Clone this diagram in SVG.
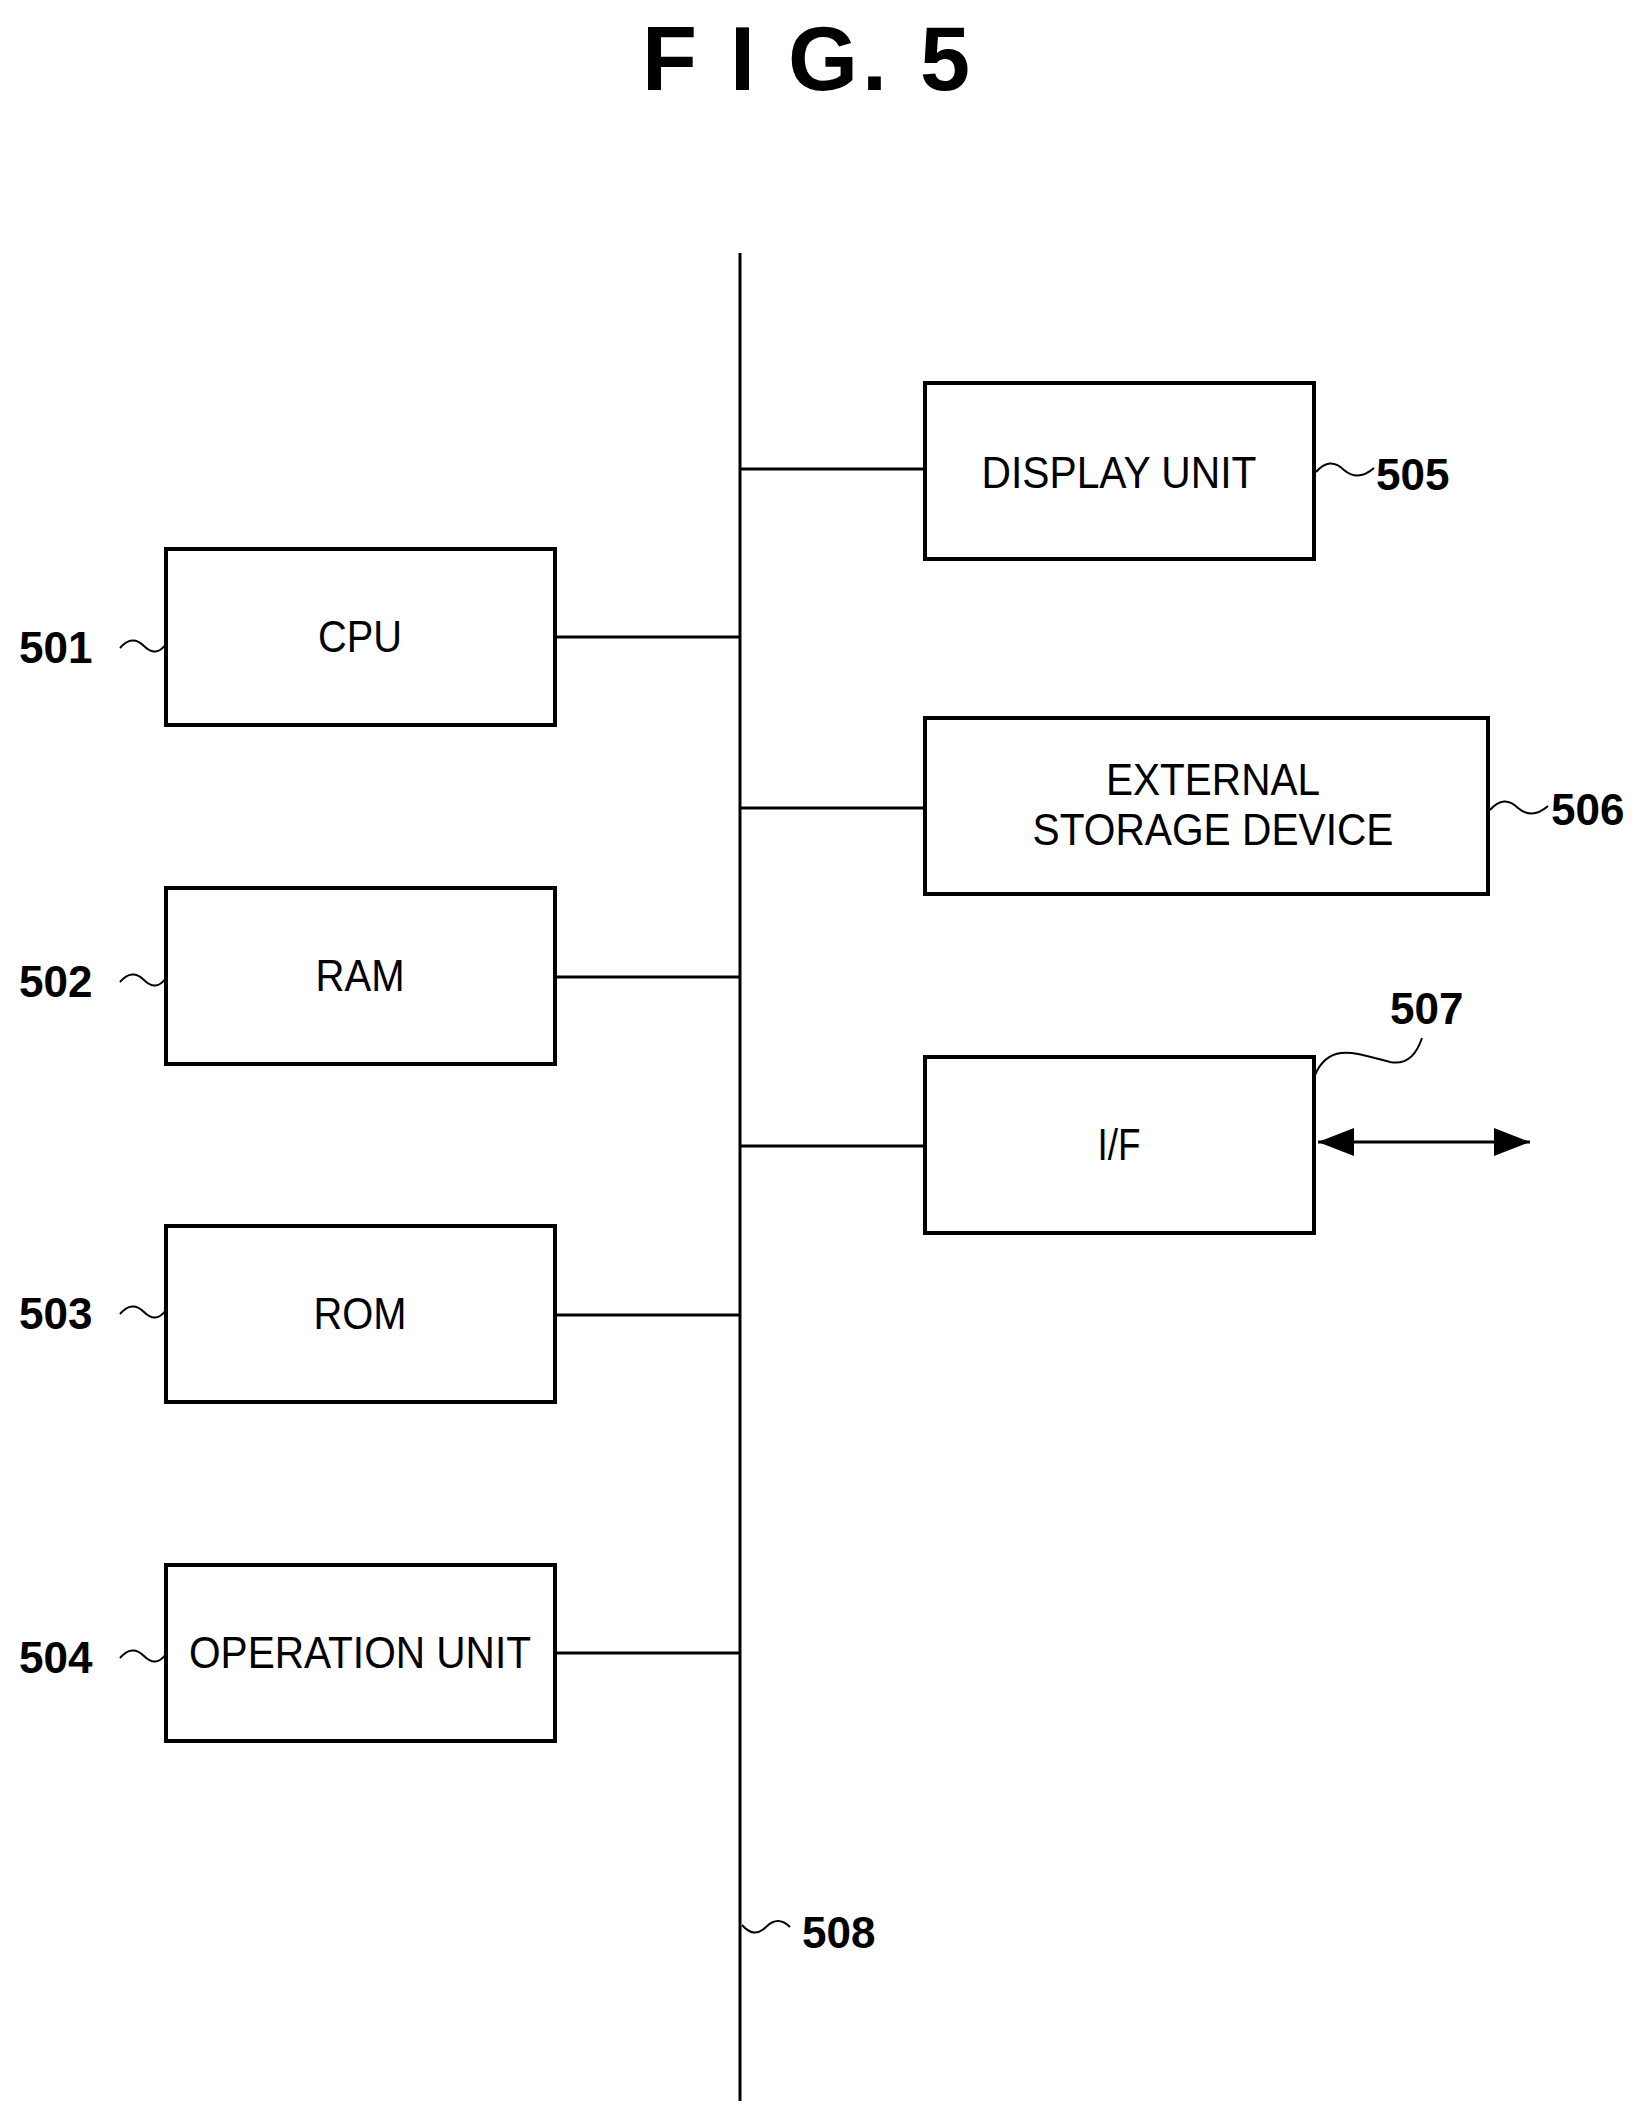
<svg xmlns="http://www.w3.org/2000/svg" width="1648" height="2115" viewBox="0 0 1648 2115">
<style>
.box{fill:#fff;stroke:#000;stroke-width:4}
.ln{stroke:#000;stroke-width:3;fill:none}
.t{font-family:"Liberation Sans",Arial,sans-serif;font-size:44px;text-anchor:middle}
.n{font-family:"Liberation Sans",Arial,sans-serif;font-size:44px;font-weight:bold}
.lead{stroke:#000;stroke-width:2;fill:none}
</style>
<defs>
<marker id="ah" viewBox="0 0 10 10" refX="10" refY="5" markerWidth="36" markerHeight="28" orient="auto-start-reverse" markerUnits="userSpaceOnUse" preserveAspectRatio="none"><path d="M0,0 L10,5 L0,10 z" fill="#000"/></marker>
</defs>
<rect width="1648" height="2115" fill="#fff"/>
<text x="808" y="90" font-family="Liberation Sans,Arial,sans-serif" font-size="90" font-weight="bold" text-anchor="middle" letter-spacing="4">F I G.  5</text>
<g id="connectors">
<line class="ln" x1="740" y1="253" x2="740" y2="2101" stroke-width="5"/>
<line class="ln" x1="555" y1="637" x2="740" y2="637"/>
<line class="ln" x1="555" y1="977" x2="740" y2="977"/>
<line class="ln" x1="555" y1="1315" x2="740" y2="1315"/>
<line class="ln" x1="555" y1="1653" x2="740" y2="1653"/>
<line class="ln" x1="740" y1="469" x2="925" y2="469"/>
<line class="ln" x1="740" y1="808" x2="925" y2="808"/>
<line class="ln" x1="740" y1="1146" x2="925" y2="1146"/>
<line class="ln" x1="1318" y1="1142" x2="1530" y2="1142" marker-start="url(#ah)" marker-end="url(#ah)"/>
</g>
<g id="cpu"><rect class="box" x="166" y="549" width="389" height="176"/><text class="t" x="360" y="652" textLength="84" lengthAdjust="spacingAndGlyphs">CPU</text>
<text class="n" x="19" y="663">501</text><path class="lead" d="M120,648 q12,-14 24,-2 q12,12 22,-2"/></g>
<g id="ram"><rect class="box" x="166" y="888" width="389" height="176"/><text class="t" x="360" y="991" textLength="89" lengthAdjust="spacingAndGlyphs">RAM</text>
<text class="n" x="19" y="997">502</text><path class="lead" d="M120,982 q12,-14 24,-2 q12,12 22,-2"/></g>
<g id="rom"><rect class="box" x="166" y="1226" width="389" height="176"/><text class="t" x="360" y="1329" textLength="93" lengthAdjust="spacingAndGlyphs">ROM</text>
<text class="n" x="19" y="1329">503</text><path class="lead" d="M120,1314 q12,-14 24,-2 q12,12 22,-2"/></g>
<g id="op"><rect class="box" x="166" y="1565" width="389" height="176"/><text class="t" x="360" y="1668" textLength="342" lengthAdjust="spacingAndGlyphs">OPERATION UNIT</text>
<text class="n" x="19" y="1673">504</text><path class="lead" d="M120,1658 q12,-14 24,-2 q12,12 22,-2"/></g>
<g id="display"><rect class="box" x="925" y="383" width="389" height="176"/><text class="t" x="1119" y="488" textLength="275" lengthAdjust="spacingAndGlyphs">DISPLAY UNIT</text>
<text class="n" x="1376" y="490">505</text><path class="lead" d="M1316,472 q14,-16 28,-2 q14,12 30,-2"/></g>
<g id="ext"><rect class="box" x="925" y="718" width="563" height="176"/><text class="t" x="1213" y="795" textLength="214" lengthAdjust="spacingAndGlyphs">EXTERNAL</text><text class="t" x="1213" y="845" textLength="361" lengthAdjust="spacingAndGlyphs">STORAGE DEVICE</text>
<text class="n" x="1551" y="825">506</text><path class="lead" d="M1490,810 q14,-16 28,-2 q14,12 30,-2"/></g>
<g id="if"><rect class="box" x="925" y="1057" width="389" height="176"/><text class="t" x="1119" y="1160" textLength="43" lengthAdjust="spacingAndGlyphs">I/F</text>
<text class="n" x="1390" y="1024">507</text><path class="lead" d="M1315,1075 C1330,1040 1360,1055 1390,1062 C1410,1066 1418,1050 1422,1038"/></g>
<g id="bus"><text class="n" x="802" y="1948">508</text><path class="lead" d="M742,1925 q12,14 24,2 q12,-12 24,0"/></g>
</svg>
